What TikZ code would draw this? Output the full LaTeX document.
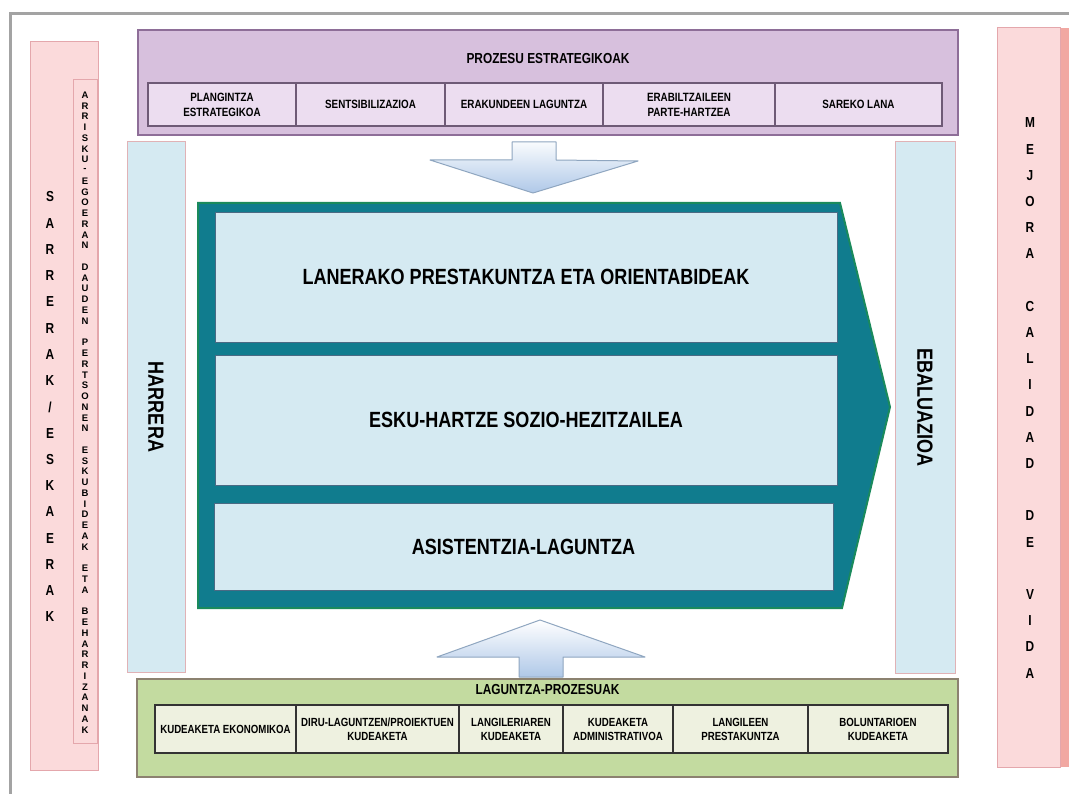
\documentclass[tikz,border=0pt]{standalone}
\usepackage{fontspec}
\setmainfont{Liberation Sans}
\newfontfamily\nar[FakeStretch=0.82]{Liberation Sans}
\definecolor{frame}{HTML}{A3A3A3}
\definecolor{pinkfill}{HTML}{FBDADB}
\definecolor{pinkline}{HTML}{E4A7AC}
\definecolor{salmon}{HTML}{F1A8A2}
\definecolor{purfill}{HTML}{D7C0DD}
\definecolor{purline}{HTML}{8E6E98}
\definecolor{pursub}{HTML}{ECDDF0}
\definecolor{pursubline}{HTML}{6E5A76}
\definecolor{lblue}{HTML}{D5EAF2}
\definecolor{sideline}{HTML}{E0B2B6}
\definecolor{teal}{HTML}{107C8E}
\definecolor{tealedge}{HTML}{1A8A5C}
\definecolor{rowline}{HTML}{4A6A84}
\definecolor{grfill}{HTML}{C3DBA0}
\definecolor{grline}{HTML}{8C8270}
\definecolor{grsub}{HTML}{EEF1E0}
\definecolor{arrline}{HTML}{8FA6C0}
\definecolor{arrdark}{HTML}{AFC8E8}
\tikzset{
  bx/.style={rectangle, inner sep=0pt, outer sep=0pt, anchor=north west},
  pinkbox/.style={bx, fill=pinkfill, draw=pinkline, line width=1pt},
  sidebox/.style={bx, fill=lblue, draw=sideline, line width=1pt},
  purbox/.style={bx, fill=purfill, draw=purline, line width=1.5pt},
  pursubbox/.style={rectangle, inner sep=1pt, outer sep=0pt, fill=pursub, draw=pursubline, line width=1.2pt, align=center, font=\nar\bfseries\fontsize{12}{15}\selectfont},
  grbox/.style={bx, fill=grfill, draw=grline, line width=1.5pt},
  grsubbox/.style={rectangle, inner sep=1pt, outer sep=0pt, fill=grsub, draw=black!80, line width=1.2pt, align=center, font=\nar\bfseries\fontsize{11.8}{14}\selectfont},
  rowbox/.style={rectangle, inner sep=0pt, outer sep=0pt, fill=lblue, draw=rowline, line width=0.6pt, font=\nar\bfseries\fontsize{22}{26}\selectfont},
  sidetext/.style={rotate=-90, font=\nar\bfseries\fontsize{22}{26}\selectfont},
  titletext/.style={font=\nar\bfseries\fontsize{14.5}{17}\selectfont},
  bigletter/.style={inner sep=0pt, font=\nar\bfseries\fontsize{14.5}{17}\selectfont},
  smallletter/.style={inner sep=0pt, font=\bfseries\fontsize{9.5}{11}\selectfont},
  bigarrow/.style={draw=arrline, line width=1pt, line join=round},
}
\begin{document}
\begin{tikzpicture}[x=1pt,y=-1pt]
\useasboundingbox (0,0) rectangle (1069,794);
\fill[white] (0,0) rectangle (1069,794);
% outer frame
\draw[frame, line width=3pt] (1069,14) -- (10,14) -- (10,794);

% left pink boxes
\node[pinkbox, minimum width=68pt, minimum height=728pt] (sarrerak) at (30,42) {};
\node[pinkbox, minimum width=24pt, minimum height=663pt] (arrisku) at (73,80) {};
\foreach \c [count=\i from 0] in {S,A,R,R,E,R,A,K,/,E,S,K,A,E,R,A,K}
  \node[bigletter] (sl\i) at (50,197+\i*26.25) {\c};
\foreach \c [count=\i from 0] in {A,R,R,I,S,K,U,-,E,G,O,E,R,A,N,,D,A,U,D,E,N,,P,E,R,T,S,O,N,E,N,,E,S,K,U,B,I,D,E,A,K,,E,T,A,,B,E,H,A,R,R,I,Z,A,N,A,K}
  \node[smallletter] (al\i) at (85,95+\i*10.76) {\c};

% right pink box
\fill[salmon] (1060,28) rectangle (1069,767);
\node[pinkbox, minimum width=63pt, minimum height=739pt] (mejora) at (997,28) {};
\foreach \c [count=\i from 0] in {M,E,J,O,R,A,,C,A,L,I,D,A,D,,D,E,,V,I,D,A}
  \node[bigletter] (ml\i) at (1030,123+\i*26.2) {\c};

% top purple box
\node[purbox, minimum width=820pt, minimum height=105pt] (prozesu) at (138,30) {};
\node[titletext] (prozesuT) at (548,59) {PROZESU ESTRATEGIKOAK};
\node[pursubbox, minimum width=148pt, minimum height=43pt] (p1) at (222,104.5) {PLANGINTZA\\ESTRATEGIKOA};
\node[pursubbox, minimum width=149pt, minimum height=43pt] (p2) at (370.5,104.5) {SENTSIBILIZAZIOA};
\node[pursubbox, minimum width=158pt, minimum height=43pt] (p3) at (524,104.5) {ERAKUNDEEN LAGUNTZA};
\node[pursubbox, minimum width=172pt, minimum height=43pt] (p4) at (689,104.5) {ERABILTZAILEEN\\PARTE-HARTZEA};
\node[pursubbox, minimum width=167pt, minimum height=43pt] (p5) at (858.5,104.5) {SAREKO LANA};

% side light blue boxes
\node[sidebox, minimum width=58pt, minimum height=530pt] (harrera) at (127,142) {};
\node[sidetext] (harreraT) at (harrera.center) {HARRERA};
\node[sidebox, minimum width=60pt, minimum height=531pt] (ebaluazioa) at (895,142) {};
\node[sidetext] (ebaluazioaT) at (ebaluazioa.center) {EBALUAZIOA};

% down arrow
\draw[bigarrow, top color=white!92!arrdark, bottom color=arrdark]
  (512,142) -- (556,142) -- (556,160) -- (638,161) -- (533,193) -- (430,160) -- (512,160) -- cycle;

% teal pentagon
\draw[fill=teal, draw=tealedge, line width=2pt, line join=miter]
  (198,203) -- (840,203) -- (890,407) -- (842,608) -- (198,608) -- cycle;
\node[rowbox, minimum width=622pt, minimum height=130pt] (row1) at (526,277) {LANERAKO PRESTAKUNTZA ETA ORIENTABIDEAK};
\node[rowbox, minimum width=622pt, minimum height=130pt] (row2) at (526,420) {ESKU-HARTZE SOZIO-HEZITZAILEA};
\node[rowbox, minimum width=619pt, minimum height=87pt] (row3) at (523.5,546.5) {ASISTENTZIA-LAGUNTZA};

% up arrow
\draw[bigarrow, top color=white, bottom color=arrdark]
  (540,620) -- (645,657) -- (563,657) -- (563,677) -- (519,677) -- (519,657) -- (437,657) -- cycle;

% bottom green box
\node[grbox, minimum width=821pt, minimum height=98pt] (laguntza) at (137,679) {};
\node[titletext] (laguntzaT) at (547.5,690) {LAGUNTZA-PROZESUAK};
\node[grsubbox, minimum width=141pt, minimum height=48pt] (g1) at (225.5,729) {KUDEAKETA EKONOMIKOA};
\node[grsubbox, minimum width=163pt, minimum height=48pt] (g2) at (377.5,729) {DIRU-LAGUNTZEN/PROIEKTUEN\\KUDEAKETA};
\node[grsubbox, minimum width=104pt, minimum height=48pt] (g3) at (511,729) {LANGILERIAREN\\KUDEAKETA};
\node[grsubbox, minimum width=110pt, minimum height=48pt] (g4) at (618,729) {KUDEAKETA\\ADMINISTRATIVOA};
\node[grsubbox, minimum width=135pt, minimum height=48pt] (g5) at (740.5,729) {LANGILEEN\\PRESTAKUNTZA};
\node[grsubbox, minimum width=140pt, minimum height=48pt] (g6) at (878,729) {BOLUNTARIOEN\\KUDEAKETA};
\end{tikzpicture}
\end{document}
